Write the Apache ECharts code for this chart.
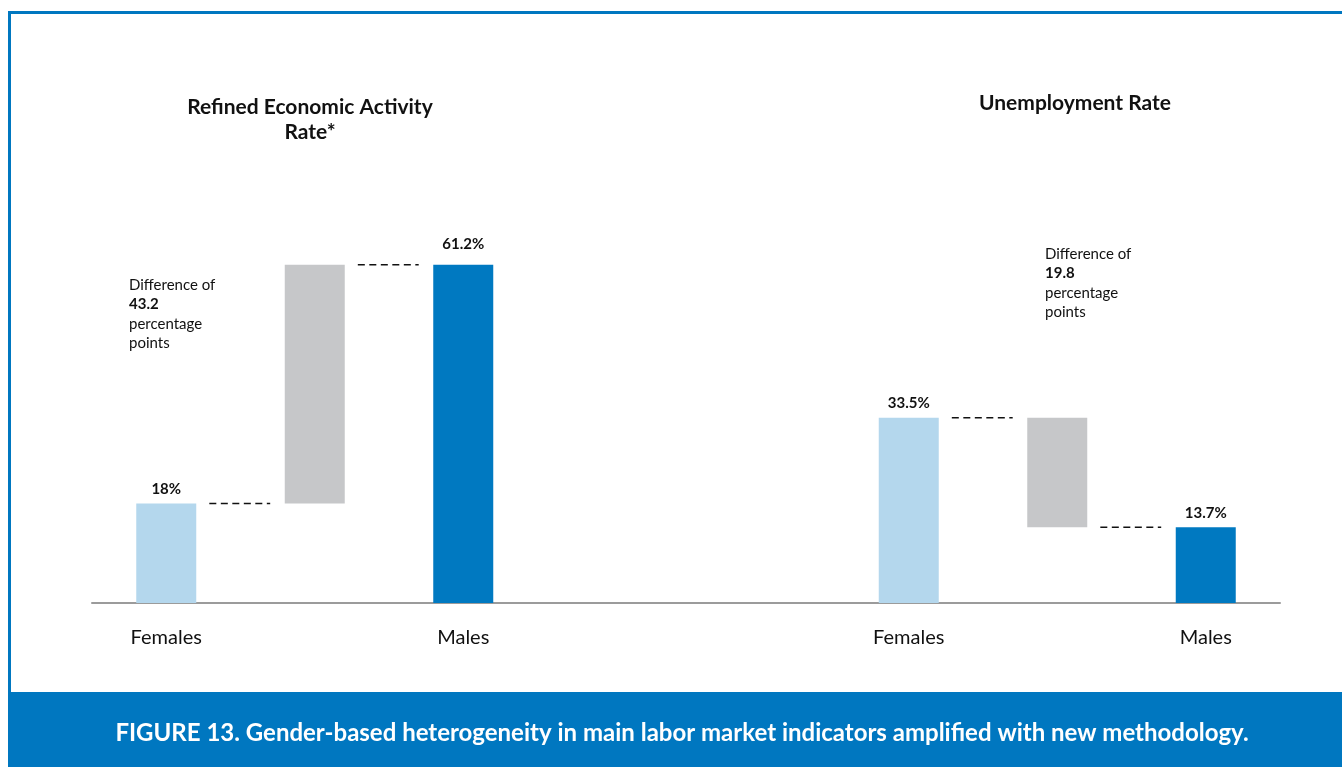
<!DOCTYPE html>
<html>
<head>
<meta charset="utf-8">
<script src="https://cdn.jsdelivr.net/npm/echarts@6/dist/echarts.min.js"></script>
<style>
  html, body { margin: 0; padding: 0; background: #fff; }
  #chart { width: 1342px; height: 767px; }
</style>
</head>
<body>
<div id="chart"></div>
<script>
// categories: two waterfalls side by side on one axis, two empty slots between them
const categories = ['f1', 'd1', 'm1', 'gap1', 'gap2', 'f2', 'd2', 'm2']
const tickLabels = ['Females', '', 'Males', '', '', 'Females', '', 'Males']

// waterfall values (percent)
const activityFemales = 18
const activityMales = 61.2
const activityDiff = 43.2
const unempFemales = 33.5
const unempMales = 13.7
const unempDiff = 19.8

// invisible base + visible bar
const baseValues = [0, activityFemales, 0, '-', '-', 0, unempMales, 0]
const barValues = [activityFemales, activityDiff, activityMales, '-', '-', unempFemales, unempDiff, unempMales]
const barLabels = ['18%', '', '61.2%', '', '', '33.5%', '', '13.7%']

const colors = {
  female: '#B4D7ED',
  diff: '#C6C7C9',
  male: '#0079C1',
  frame: '#0077C0'
}
const barColors = [colors.female, colors.diff, colors.male, null, null, colors.female, colors.diff, colors.male]

// connector dashes: [from bar index, level]
const connectors = [
  [0, activityFemales],
  [1, activityMales],
  [5, unempFemales],
  [6, unempMales]
]

const chart = echarts.init(document.getElementById('chart'))

// dashed connector segments on a value x axis matching the categories
const dashData = []
connectors.forEach(c => {
  dashData.push([c[0] + 0.29, c[1]], [c[0] + 0.7, c[1]], [c[0] + 0.7, '-'])
})

const FONT = 'Lato, "Open Sans", sans-serif'

const annotationRich = {
  n: { fontFamily: FONT, fontSize: 15, lineHeight: 19.5, color: '#111' },
  b: { fontFamily: FONT, fontSize: 15, fontWeight: 'bold', lineHeight: 19.5, color: '#111' }
}

const option = {
  animation: false,
  backgroundColor: '#fff',
  textStyle: { fontFamily: FONT },
  title: [
    {
      text: 'Refined Economic Activity\nRate*',
      left: 305, top: 90, textAlign: 'center',
      textStyle: { fontFamily: FONT, fontSize: 21, fontWeight: 'bold', color: '#111', lineHeight: 25 }
    },
    {
      text: 'Unemployment Rate',
      left: 1070, top: 88, textAlign: 'center',
      textStyle: { fontFamily: FONT, fontSize: 21, fontWeight: 'bold', color: '#111' }
    }
  ],
  grid: { left: 92, right: 62, top: 216, bottom: 164 },
  xAxis: [
    {
      type: 'category',
      data: categories,
      axisLine: { lineStyle: { color: '#9b9b9b', width: 2 } },
      axisTick: { show: false },
      axisLabel: {
        formatter: (v, i) => tickLabels[i],
        interval: 0,
        margin: 25,
        fontFamily: FONT,
        fontSize: 20,
        color: '#111'
      }
    },
    { type: 'value', min: -0.5, max: 7.5, show: false }
  ],
  yAxis: { type: 'value', min: 0, max: 70, show: false },
  series: [
    {
      type: 'bar', stack: 'w', barWidth: 60, silent: true,
      itemStyle: { color: 'transparent' },
      data: baseValues
    },
    {
      type: 'bar', stack: 'w', barWidth: 60,
      data: barValues.map((v, i) => ({
        value: v,
        itemStyle: { color: barColors[i] },
        label: {
          show: barLabels[i] !== '',
          position: 'top',
          distance: i === 2 ? 13 : 7,
          formatter: barLabels[i],
          fontFamily: FONT,
          fontSize: 15,
          fontWeight: 'bold',
          color: '#111'
        }
      }))
    },
    {
      type: 'line', xAxisIndex: 1, symbol: 'none', silent: true,
      connectNulls: false,
      lineStyle: { color: '#111', width: 1.5, type: [7, 4.5] },
      data: dashData
    }
  ],
  graphic: [
    // frame
    { type: 'rect', shape: { x: 8, y: 11, width: 1342, height: 3 }, style: { fill: colors.frame } },
    { type: 'rect', shape: { x: 8, y: 11, width: 3, height: 682 }, style: { fill: colors.frame } },
    // caption banner
    { type: 'rect', shape: { x: 8, y: 692, width: 1342, height: 75 }, style: { fill: colors.frame } },
    {
      type: 'text', x: 682, y: 733,
      style: {
        text: 'FIGURE 13. Gender-based heterogeneity in main labor market indicators amplified with new methodology.',
        fill: '#fff', font: 'bold 24px ' + FONT, align: 'center', verticalAlign: 'middle'
      }
    },
    // annotations
    {
      type: 'text', x: 129, y: 275,
      style: {
        text: '{n|Difference of}\n{b|' + activityDiff + '}\n{n|percentage}\n{n|points}',
        fill: '#111',
        rich: annotationRich
      }
    },
    {
      type: 'text', x: 1045, y: 244,
      style: {
        text: '{n|Difference of}\n{b|' + unempDiff + '}\n{n|percentage}\n{n|points}',
        fill: '#111',
        rich: annotationRich
      }
    }
  ]
}

chart.setOption(option)
</script>
</body>
</html>
